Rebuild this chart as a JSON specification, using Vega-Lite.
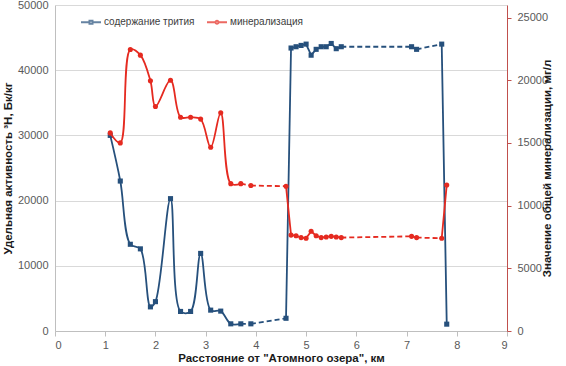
{
  "$schema": "https://vega.github.io/schema/vega-lite/v6.json",
  "autosize": {"type": "none"},
  "padding": {"left": 55, "top": 5, "right": 59, "bottom": 35},
  "width": 452,
  "height": 326,
  "background": "white",
  "config": {
    "view": {"stroke": null},
    "axis": {
      "labelFont": "Liberation Sans",
      "labelFontSize": 11,
      "labelColor": "#595959",
      "titleFont": "Liberation Sans",
      "titleFontSize": 11.5,
      "titleFontWeight": "bold",
      "titleColor": "#1a1a1a",
      "domainColor": "#bfbfbf",
      "tickColor": "#bfbfbf",
      "gridColor": "#d9d9d9"
    }
  },
  "data": {
    "values": [
      {"x": 1.1, "tritium": 30000, "mineral": 15800},
      {"x": 1.3, "tritium": 23000, "mineral": 15000},
      {"x": 1.5, "tritium": 13300, "mineral": 22450},
      {"x": 1.7, "tritium": 12600, "mineral": 22000},
      {"x": 1.9, "tritium": 3700, "mineral": 19950},
      {"x": 2.0, "tritium": 4500, "mineral": 17900},
      {"x": 2.3, "tritium": 20300, "mineral": 20000},
      {"x": 2.5, "tritium": 3000, "mineral": 17050},
      {"x": 2.7, "tritium": 3000, "mineral": 17050},
      {"x": 2.9, "tritium": 11900, "mineral": 16900},
      {"x": 3.1, "tritium": 3200, "mineral": 14650},
      {"x": 3.3, "tritium": 3050, "mineral": 17400},
      {"x": 3.5, "tritium": 1100, "mineral": 11750},
      {"x": 3.7, "tritium": 1100, "mineral": 11750},
      {"x": 3.9, "tritium": 1100, "mineral": 11600},
      {"x": 4.6, "tritium": 1950, "mineral": 11550},
      {"x": 4.7, "tritium": 43400, "mineral": 7650},
      {"x": 4.8, "tritium": 43600, "mineral": 7600},
      {"x": 4.9, "tritium": 43800, "mineral": 7450},
      {"x": 5.0, "tritium": 44000, "mineral": 7400},
      {"x": 5.1, "tritium": 42300, "mineral": 7950},
      {"x": 5.2, "tritium": 43200, "mineral": 7600},
      {"x": 5.3, "tritium": 43600, "mineral": 7450},
      {"x": 5.4, "tritium": 43600, "mineral": 7500},
      {"x": 5.5, "tritium": 44100, "mineral": 7550},
      {"x": 5.6, "tritium": 43300, "mineral": 7500},
      {"x": 5.7, "tritium": 43600, "mineral": 7450},
      {"x": 7.1, "tritium": 43600, "mineral": 7550},
      {"x": 7.2, "tritium": 43200, "mineral": 7450},
      {"x": 7.7, "tritium": 44000, "mineral": 7400},
      {"x": 7.8, "tritium": 1050, "mineral": 11650}
    ]
  },
  "layer": [
    {
      "layer": [
        {
          "transform": [{"filter": "datum.x <= 3.75"}],
          "mark": {"type": "line", "color": "#26507C", "strokeWidth": 1.8, "interpolate": "catmull-rom"},
          "encoding": {
            "x": {"field": "x", "type": "quantitative", "scale": {"domain": [0, 9]},
              "axis": {"values": [0,1,2,3,4,5,6,7,8,9], "grid": false, "tickSize": 5, "labelPadding": 3, "title": "Расстояние от \"Атомного озера\", км", "titlePadding": 2}},
            "y": {"field": "tritium", "type": "quantitative", "scale": {"domain": [0, 50000]},
              "axis": {"orient": "left", "values": [0,10000,20000,30000,40000,50000], "format": "d", "grid": true, "tickSize": 0, "labelPadding": 7, "title": "Удельная активность ³H, Бк/кг", "titlePadding": 4}}
          }
        },
        {
          "transform": [
            {"window": [{"op": "lead", "field": "x", "as": "x_next"}, {"op": "lead", "field": "tritium", "as": "t_next"}], "sort": [{"field": "x"}]},
            {"filter": "datum.x_next != null && datum.x >= 3.65"}
          ],
          "mark": {"type": "rule", "color": "#26507C", "strokeWidth": 1.8},
          "encoding": {
            "x": {"field": "x", "type": "quantitative"},
            "x2": {"field": "x_next"},
            "y": {"field": "tritium", "type": "quantitative"},
            "y2": {"field": "t_next"},
            "strokeDash": {"condition": {"test": "datum.x_next - datum.x > 0.15", "value": [5, 3]}, "value": [1, 0]}
          }
        },
        {
          "mark": {"type": "point", "shape": "square", "filled": true, "size": 26, "color": "#26507C", "opacity": 1},
          "encoding": {
            "x": {"field": "x", "type": "quantitative"},
            "y": {"field": "tritium", "type": "quantitative"}
          }
        },
        {
          "transform": [{"filter": "false"}],
          "mark": {"type": "point"},
          "encoding": {
            "x": {"field": "x", "type": "quantitative"},
            "y": {"field": "tritium", "type": "quantitative"},
            "color": {"datum": "содержание трития", "type": "nominal",
              "scale": {"domain": ["содержание трития", "минерализация"], "range": ["#26507C", "#E52A20"]},
              "legend": {"title": null, "orient": "none", "legendX": 25, "legendY": 6, "direction": "horizontal",
                "labelFont": "Liberation Sans", "labelFontSize": 10, "labelColor": "#404040",
                "symbolSize": 400, "symbolStrokeWidth": 2, "columnPadding": 8, "labelOffset": 2}},
            "shape": {"datum": "содержание трития", "type": "nominal",
              "scale": {"domain": ["содержание трития", "минерализация"],
                "range": ["M-1,0H-0.15M0.15,0H1M-0.15,-0.15H0.15V0.15H-0.15Z", "M-1,0H-0.15M0.15,0H1M0.15,0A0.15,0.15,0,1,1,-0.15,0A0.15,0.15,0,1,1,0.15,0"]},
              "legend": {"title": null, "orient": "none", "legendX": 25, "legendY": 6, "direction": "horizontal",
                "labelFont": "Liberation Sans", "labelFontSize": 10, "labelColor": "#404040",
                "symbolSize": 400, "symbolStrokeWidth": 2, "columnPadding": 8, "labelOffset": 2}}
          }
        }
      ]
    },
    {
      "layer": [
        {
          "transform": [{"filter": "datum.x <= 3.75"}],
          "mark": {"type": "line", "color": "#E52A20", "strokeWidth": 1.8, "interpolate": "catmull-rom"},
          "encoding": {
            "x": {"field": "x", "type": "quantitative"},
            "y": {"field": "mineral", "type": "quantitative", "scale": {"domain": [0, 25000]},
              "axis": {"orient": "right", "values": [0,5000,10000,15000,20000,25000], "format": "d", "grid": false, "tickSize": 4, "labelPadding": 6, "domainColor": "#C0504D", "tickColor": "#C0504D", "title": "Значение общей минерализации, мг/л", "titleAngle": -90, "titlePadding": 5}}
          }
        },
        {
          "transform": [
            {"window": [{"op": "lead", "field": "x", "as": "x_next"}, {"op": "lead", "field": "mineral", "as": "m_next"}], "sort": [{"field": "x"}]},
            {"filter": "datum.x_next != null && datum.x >= 3.65"}
          ],
          "mark": {"type": "rule", "color": "#E52A20", "strokeWidth": 1.8},
          "encoding": {
            "x": {"field": "x", "type": "quantitative"},
            "x2": {"field": "x_next"},
            "y": {"field": "mineral", "type": "quantitative"},
            "y2": {"field": "m_next"},
            "strokeDash": {"condition": {"test": "datum.x_next - datum.x > 0.15", "value": [5, 3]}, "value": [1, 0]}
          }
        },
        {
          "mark": {"type": "point", "shape": "circle", "filled": true, "size": 26, "color": "#E52A20", "opacity": 1},
          "encoding": {
            "x": {"field": "x", "type": "quantitative"},
            "y": {"field": "mineral", "type": "quantitative"}
          }
        }
      ]
    }
  ],
  "resolve": {"scale": {"y": "independent"}}
}
